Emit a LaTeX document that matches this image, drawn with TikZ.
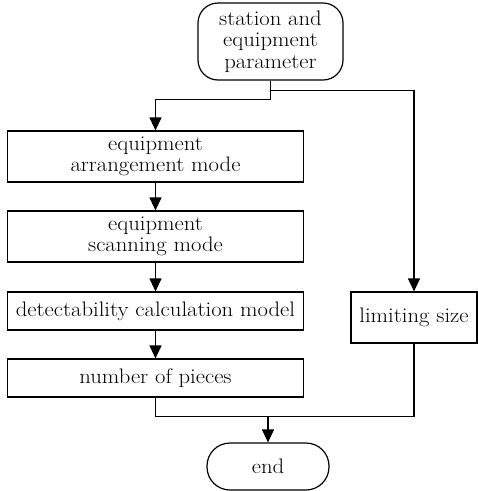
\documentclass[tikz,border=0pt]{standalone}
\usepackage{fontspec}
\setmainfont{Latin Modern Roman}[FakeStretch=1.08]
\usepackage{tikz}
\usetikzlibrary{arrows.meta}
\tikzstyle{stepbox} = [draw=black, line width=1.2pt, rectangle, align=center,
    minimum width=296pt, inner sep=2pt]
\tikzstyle{termbox} = [draw=black, line width=1.2pt, rectangle, align=center,
    inner sep=2pt]
\tikzstyle{arrowline} = [draw, line width=1.2pt, -{Triangle[width=12pt,length=13pt]}]

\begin{document}
\begin{tikzpicture}[x=1pt, y=-1pt, font=\fontsize{21}{21.5}\selectfont]
\useasboundingbox (0,0) rectangle (478,491);
% start and end
\node[termbox, rounded corners=20pt, minimum width=145pt, minimum height=77pt]
    (param) at (270.5,41.5) {station and\\equipment\\parameter};
\node[termbox, rounded corners=23pt, minimum width=122pt, minimum height=47pt]
    (finish) at (268,466.5) {end};
% left column
\node[stepbox, minimum height=51pt] (arrange) at (155.5,156.5) {equipment\\arrangement mode};
\node[stepbox, minimum height=51pt] (scan) at (155.5,236.5) {equipment\\scanning mode};
\node[stepbox, minimum height=38pt] (detect) at (155.5,311) {detectability calculation model};
\node[stepbox, minimum height=38pt] (count) at (155.5,378) {number of pieces};
% right column
\node[termbox, minimum width=126pt, minimum height=51pt] (limit) at (414,317.5) {limiting size};

\draw[arrowline] (param.south) -- ++(0,19) -| (arrange.north);
\draw[arrowline] (param.south) -- ++(0,10) -| (limit.north);
\draw[arrowline] (arrange) -- (scan);
\draw[arrowline] (scan) -- (detect);
\draw[arrowline] (detect) -- (count);
\draw[line width=1.2pt] (count.south) -- ++(0,19) coordinate (joinL) -| (limit.south);
\draw[arrowline] (joinL -| finish.north) -- (finish.north);
\end{tikzpicture}
\end{document}
